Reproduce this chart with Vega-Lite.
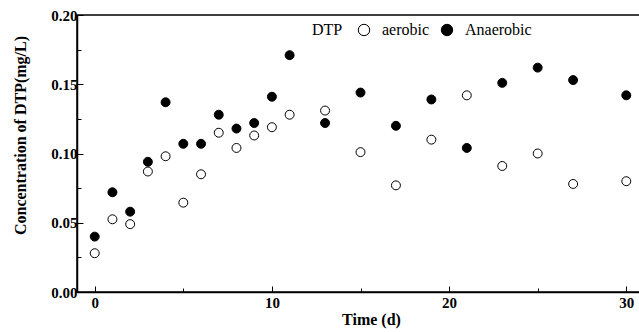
{
  "$schema": "https://vega.github.io/schema/vega-lite/v6.json",
  "autosize": {"type": "none"},
  "padding": {"left": 77, "top": 15, "right": 0, "bottom": 40},
  "width": 567,
  "height": 277,
  "background": "white",
  "config": {
    "view": {"stroke": "black", "strokeWidth": 1.5},
    "font": "Liberation Serif"
  },
  "data": {
    "values": [
      {"t": 0, "c": 0.028, "cond": "aerobic"},
      {"t": 1, "c": 0.0525, "cond": "aerobic"},
      {"t": 2, "c": 0.049, "cond": "aerobic"},
      {"t": 3, "c": 0.087, "cond": "aerobic"},
      {"t": 4, "c": 0.098, "cond": "aerobic"},
      {"t": 5, "c": 0.0645, "cond": "aerobic"},
      {"t": 6, "c": 0.085, "cond": "aerobic"},
      {"t": 7, "c": 0.115, "cond": "aerobic"},
      {"t": 8, "c": 0.104, "cond": "aerobic"},
      {"t": 9, "c": 0.113, "cond": "aerobic"},
      {"t": 10, "c": 0.119, "cond": "aerobic"},
      {"t": 11, "c": 0.128, "cond": "aerobic"},
      {"t": 13, "c": 0.131, "cond": "aerobic"},
      {"t": 15, "c": 0.101, "cond": "aerobic"},
      {"t": 17, "c": 0.077, "cond": "aerobic"},
      {"t": 19, "c": 0.110, "cond": "aerobic"},
      {"t": 21, "c": 0.142, "cond": "aerobic"},
      {"t": 23, "c": 0.091, "cond": "aerobic"},
      {"t": 25, "c": 0.100, "cond": "aerobic"},
      {"t": 27, "c": 0.078, "cond": "aerobic"},
      {"t": 30, "c": 0.080, "cond": "aerobic"},
      {"t": 0, "c": 0.040, "cond": "Anaerobic"},
      {"t": 1, "c": 0.072, "cond": "Anaerobic"},
      {"t": 2, "c": 0.058, "cond": "Anaerobic"},
      {"t": 3, "c": 0.094, "cond": "Anaerobic"},
      {"t": 4, "c": 0.137, "cond": "Anaerobic"},
      {"t": 5, "c": 0.107, "cond": "Anaerobic"},
      {"t": 6, "c": 0.107, "cond": "Anaerobic"},
      {"t": 7, "c": 0.128, "cond": "Anaerobic"},
      {"t": 8, "c": 0.118, "cond": "Anaerobic"},
      {"t": 9, "c": 0.122, "cond": "Anaerobic"},
      {"t": 10, "c": 0.141, "cond": "Anaerobic"},
      {"t": 11, "c": 0.171, "cond": "Anaerobic"},
      {"t": 13, "c": 0.122, "cond": "Anaerobic"},
      {"t": 15, "c": 0.144, "cond": "Anaerobic"},
      {"t": 17, "c": 0.120, "cond": "Anaerobic"},
      {"t": 19, "c": 0.139, "cond": "Anaerobic"},
      {"t": 21, "c": 0.104, "cond": "Anaerobic"},
      {"t": 23, "c": 0.151, "cond": "Anaerobic"},
      {"t": 25, "c": 0.162, "cond": "Anaerobic"},
      {"t": 27, "c": 0.153, "cond": "Anaerobic"},
      {"t": 30, "c": 0.142, "cond": "Anaerobic"}
    ]
  },
  "mark": {"type": "point", "shape": "circle", "filled": false, "size": 80, "stroke": "black", "strokeWidth": 1, "opacity": 1},
  "encoding": {
    "x": {
      "field": "t", "type": "quantitative",
      "scale": {"domain": [-1, 31], "nice": false, "zero": false},
      "axis": {
        "title": "Time (d)",
        "values": [0, 5, 10, 15, 20, 25, 30],
        "labelExpr": "datum.value % 10 === 0 ? datum.label : ''",
        "grid": false,
        "domainColor": "black", "domainWidth": 1.5,
        "tickColor": "black", "tickWidth": 1,
        "tickSize": {"condition": {"test": "datum.value % 10 === 0", "value": -6}, "value": -4},
        "labelFont": "Liberation Serif", "labelFontSize": 15, "labelFontWeight": "bold", "labelColor": "black",
        "labelPadding": 9,
        "titleFont": "Liberation Serif", "titleFontSize": 16, "titleFontWeight": "bold", "titleColor": "black",
        "titleX": 294, "titlePadding": 1
      }
    },
    "y": {
      "field": "c", "type": "quantitative",
      "scale": {"domain": [0, 0.2], "nice": false},
      "axis": {
        "title": "Concentration of DTP(mg/L)",
        "values": [0, 0.025, 0.05, 0.075, 0.1, 0.125, 0.15, 0.175, 0.2],
        "labelExpr": "round(datum.value * 1000) % 50 === 0 ? format(datum.value, '.2f') : ''",
        "grid": false,
        "domainColor": "black", "domainWidth": 1.5,
        "tickColor": "black", "tickWidth": 1,
        "tickSize": {"condition": {"test": "round(datum.value * 1000) % 50 === 0", "value": -6}, "value": -4},
        "labelFont": "Liberation Serif", "labelFontSize": 15, "labelFontWeight": "bold", "labelColor": "black",
        "labelPadding": 6,
        "titleFont": "Liberation Serif", "titleFontSize": 16, "titleFontWeight": "bold", "titleColor": "black",
        "titleX": -57, "titleY": 120, "titleAngle": -90, "titleAlign": "center", "titleBaseline": "middle"
      }
    },
    "fill": {
      "field": "cond", "type": "nominal",
      "scale": {"domain": ["aerobic", "Anaerobic"], "range": ["white", "black"]},
      "legend": {
        "title": "DTP",
        "orient": "none", "legendX": 235, "legendY": 7,
        "direction": "horizontal", "titleOrient": "left", "titlePadding": 13,
        "titleFont": "Liberation Serif", "titleFontSize": 16, "titleFontWeight": "normal", "titleColor": "black",
        "labelFont": "Liberation Serif", "labelFontSize": 16, "labelColor": "black",
        "symbolType": "circle", "symbolSize": 130, "symbolStrokeColor": "black", "symbolStrokeWidth": 1,
        "labelOffset": 10, "columnPadding": 9
      }
    }
  }
}
